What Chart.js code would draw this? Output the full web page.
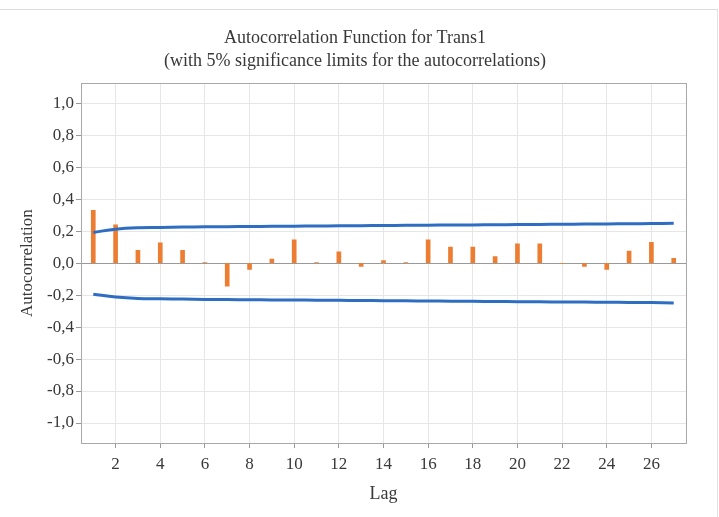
<!DOCTYPE html>
<html>
<head>
<meta charset="utf-8">
<script src="https://cdn.jsdelivr.net/npm/chart.js@4"></script>
<style>
html,body{margin:0;padding:0;background:#fff;}
#wrap{width:719px;height:517px;position:relative;overflow:hidden;}
#edge{position:absolute;left:0;top:9px;width:717px;height:520px;border-top:1px solid #dcdcdc;border-right:1px solid #e2e2e2;pointer-events:none;}
</style>
</head>
<body>
<div id="wrap"><canvas id="c" width="719" height="517"></canvas><div id="edge"></div></div>
<script>
const lags = [1,2,3,4,5,6,7,8,9,10,11,12,13,14,15,16,17,18,19,20,21,22,23,24,25,26,27];
const acf = [0.33,0.24,0.08,0.127,0.08,0.004,-0.145,-0.04,0.025,0.145,0.003,0.07,-0.02,0.015,0.003,0.145,0.10,0.10,0.04,0.12,0.12,-0.004,-0.02,-0.04,0.075,0.13,0.03];
const upperLimit = [0.192,0.212,0.221,0.223,0.225,0.227,0.228,0.229,0.230,0.231,0.232,0.233,0.234,0.235,0.236,0.237,0.238,0.239,0.240,0.241,0.242,0.243,0.244,0.245,0.246,0.247,0.249];
const lowerLimit = [-0.195,-0.212,-0.221,-0.223,-0.225,-0.227,-0.228,-0.229,-0.230,-0.231,-0.232,-0.233,-0.234,-0.235,-0.236,-0.237,-0.238,-0.239,-0.240,-0.241,-0.242,-0.243,-0.244,-0.245,-0.246,-0.247,-0.250];
const xTicks = [2,4,6,8,10,12,14,16,18,20,22,24,26];
const yTicks = [-1.0,-0.8,-0.6,-0.4,-0.2,0.0,0.2,0.4,0.6,0.8,1.0];

const serif = "'Liberation Serif', 'DejaVu Serif', serif";
const frame = {
  id:'frame',
  afterDraw(chart){
    const a = chart.chartArea, ctx = chart.ctx;
    ctx.save();
    ctx.strokeStyle = '#a8a8a8';
    ctx.lineWidth = 1;
    ctx.strokeRect(Math.round(a.left)+0.5, Math.round(a.top)+0.5, Math.round(a.right-a.left), Math.round(a.bottom-a.top));
    ctx.restore();
  }
};

function build(){
new Chart(document.getElementById('c'), {
  data: {
    datasets: [
      { type:'bar', data: lags.map((l,i)=>({x:l,y:acf[i]})), backgroundColor:'#ED7D31', barThickness:4, order:2 },
      { type:'line', data: lags.map((l,i)=>({x:l,y:upperLimit[i]})), borderColor:'#2E6EC2', borderWidth:3, pointRadius:0, tension:0.4, order:1 },
      { type:'line', data: lags.map((l,i)=>({x:l,y:lowerLimit[i]})), borderColor:'#2E6EC2', borderWidth:3, pointRadius:0, tension:0.4, order:1 }
    ]
  },
  options: {
    responsive:false,
    animation:false,
    layout:{ padding:{ left:0, right:9, top:0, bottom:12 } },
    plugins:{
      legend:{display:false},
      tooltip:{enabled:false},
      title:{ display:true, text:'Autocorrelation Function for Trans1', color:'#383838', font:{family:serif,size:18,weight:'normal'}, padding:{top:27,bottom:2} },
      subtitle:{ display:true, text:'(with 5% significance limits for the autocorrelations)', color:'#383838', font:{family:serif,size:18,weight:'normal'}, padding:{top:0,bottom:11} }
    },
    scales:{
      x:{
        type:'linear', min:0.45, max:27.55, offset:false,
        afterBuildTicks(s){ s.ticks = xTicks.map(v=>({value:v})); },
        ticks:{ color:'#383838', font:{family:serif,size:17}, padding:6, maxRotation:0, autoSkip:false },
        grid:{ offset:false, color:'#e6e6e6', tickColor:'#999', tickLength:5 },
        border:{ display:false },
        title:{ display:true, text:'Lag', color:'#383838', font:{family:serif,size:18}, padding:{top:3,bottom:0} }
      },
      y:{
        type:'linear', min:-1.125, max:1.125,
        afterBuildTicks(s){ s.ticks = yTicks.map(v=>({value:v})); },
        afterFit(s){ s.width = 81; },
        ticks:{ color:'#383838', font:{family:serif,size:17}, padding:2, callback:v=>v.toFixed(1).replace('.',',') },
        grid:{ color:c=> (c.tick && Math.abs(c.tick.value)<1e-9) ? '#9a9a9a' : '#e6e6e6', tickColor:'#999', tickLength:5 },
        border:{ display:false },
        title:{ display:true, text:'Autocorrelation', color:'#383838', font:{family:serif,size:17}, padding:{top:17,bottom:2} }
      },
      yRight:{
        type:'linear', position:'right', display:true,
        afterFit(s){ s.width = 24; },
        ticks:{ display:false },
        grid:{ display:false, drawTicks:false },
        border:{ display:false }
      }
    }
  },
  plugins:[frame]
});
}
if (document.fonts && document.fonts.load) {
  Promise.all([
    document.fonts.load("17px 'Liberation Serif'"),
    document.fonts.load("18px 'Liberation Serif'")
  ]).then(build, build);
} else { build(); }
</script>
</body>
</html>
